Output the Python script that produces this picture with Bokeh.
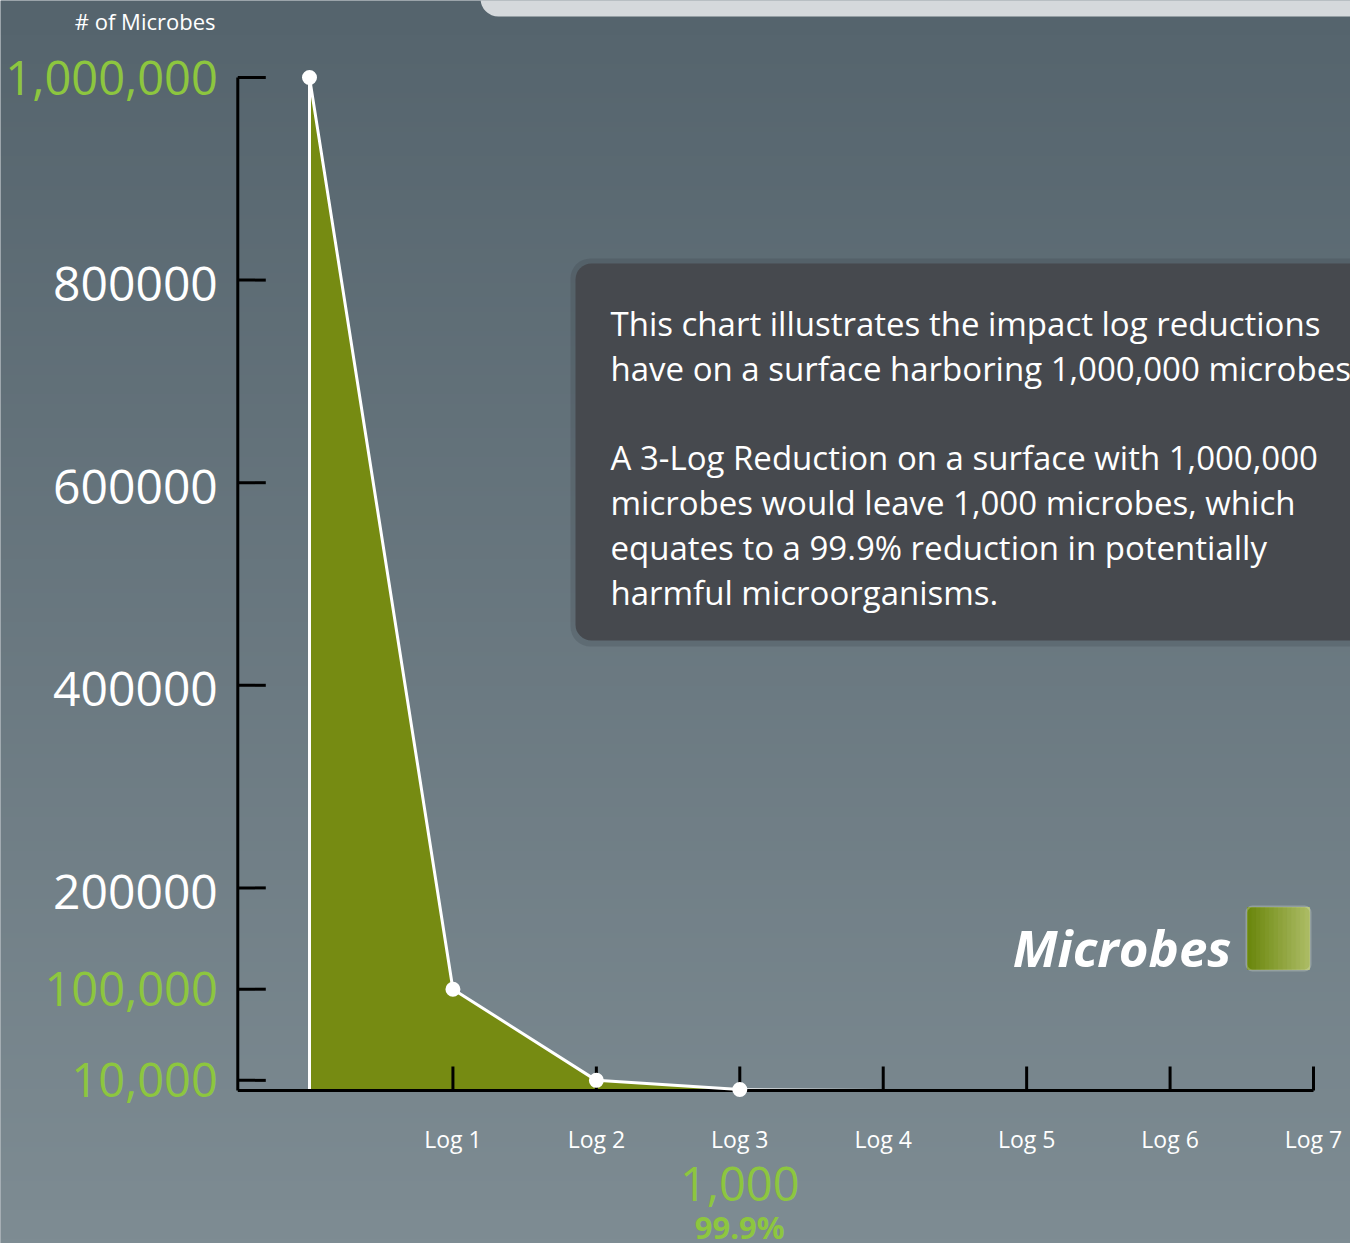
import numpy as np
from bokeh.plotting import figure
from bokeh.models import Range1d, BoxAnnotation
from bokeh.core.properties import value
from bokeh.embed import file_html
from bokeh.resources import INLINE

# ---------------- data ----------------
steps = [0, 1, 2, 3]
microbes = [1000000, 100000, 10000, 1000]
trail_steps = [3, 4]
trail_microbes = [1000, 100]
x_tick_steps = [1, 2, 3, 4, 5, 6, 7]
x_tick_labels = ["Log 1", "Log 2", "Log 3", "Log 4", "Log 5", "Log 6", "Log 7"]
y_ticks_plain = [200000, 400000, 600000, 800000]
y_labels_plain = ["200000", "400000", "600000", "800000"]
y_ticks_key = [10000, 100000, 1000000]
y_labels_key = ["10,000", "100,000", "1,000,000"]
highlight_step = 3
highlight_count = "1,000"
highlight_pct = "99.9%"
series_name = "Microbes"
y_title = "# of Microbes"
note_lines = [
    "This chart illustrates the impact log reductions",
    "have on a surface harboring 1,000,000 microbes.",
    "A 3-Log Reduction on a surface with 1,000,000",
    "microbes would leave 1,000 microbes, which",
    "equates to a 99.9% reduction in potentially",
    "harmful microorganisms.",
]

# ---------------- layout (pixels of the page) ----------------
W, H = 1350, 1243
PAD = 0
X0, DX = 309.0, 143.43     # page px of step 0, px per step
Y0, DY = 1090.0, 1013.0    # page px of 0 microbes, px per 1e6


def X(px):
    return (px - X0) / DX


def Y(py):
    return (Y0 - py) / DY * 1e6


xr = Range1d(X(PAD), X(PAD + W))
yr = Range1d(Y(PAD + H), Y(PAD))

p = figure(width=W, height=H, x_range=xr, y_range=yr,
           output_backend="svg", toolbar_location=None,
           x_axis_location=None, y_axis_location=None,
           min_border=0, min_border_left=0, min_border_right=0,
           min_border_top=0, min_border_bottom=0)
p.grid.visible = False
p.outline_line_color = None
p.background_fill_color = "#6a7981"
p.border_fill_color = "#6a7981"

# background gradient
rows = 256
img = np.empty((rows, 2), dtype=np.uint32)
view = img.view(dtype=np.uint8).reshape((rows, 2, 4))
bottom = np.array([126, 140, 147])
top = np.array([85, 100, 109])
for i in range(rows):
    t = i / (rows - 1)
    c = bottom * (1 - t) + top * t
    view[i, :, 0] = int(c[0])
    view[i, :, 1] = int(c[1])
    view[i, :, 2] = int(c[2])
    view[i, :, 3] = 255
bg = p.image_rgba(image=[img], x=xr.start, y=yr.start,
                  dw=xr.end - xr.start, dh=yr.end - yr.start)
bg.level = "image"

FONT = value("Open Sans")

# top light panel
p.add_layout(BoxAnnotation(left=X(480), right=X(1420), top=Y(-40), bottom=Y(16),
                           fill_color="#d5d9dc", fill_alpha=1, line_color=None,
                           border_radius=18, level="underlay"))

# note box with shadow
p.add_layout(BoxAnnotation(left=X(570), right=X(1420), top=Y(258), bottom=Y(646),
                           fill_color="#2f3438", fill_alpha=0.18, line_color=None,
                           border_radius=20, level="underlay"))
p.add_layout(BoxAnnotation(left=X(575), right=X(1420), top=Y(263), bottom=Y(640),
                           fill_color="#46494e", fill_alpha=1, line_color=None,
                           border_radius=16, level="underlay"))

note_y_px = [323, 368, 457, 502, 547, 592]
p.text(x=[X(610)] * len(note_lines), y=[Y(v) for v in note_y_px], text=note_lines,
       text_font=FONT, text_font_size="33px", text_color="#ffffff",
       text_align="left", text_baseline="middle")

# area + outline
axis_x = -0.5
p.varea(x=steps, y1=[0] * len(steps), y2=microbes, fill_color="#768b12", fill_alpha=1)
p.segment(x0=[steps[0]], y0=[0], x1=[steps[0]], y1=[microbes[0]],
          line_color="white", line_width=3)
p.line(x=trail_steps, y=trail_microbes, line_color="white", line_width=3, line_alpha=0.8)

# axes
tick_len_x = 28 / DX
tick_len_y = 24 / DY * 1e6
all_y_ticks = y_ticks_plain + y_ticks_key
p.segment(x0=[axis_x] * len(all_y_ticks), y0=all_y_ticks,
          x1=[axis_x + tick_len_x] * len(all_y_ticks), y1=all_y_ticks,
          line_color="black", line_width=3)
p.segment(x0=x_tick_steps, y0=[0] * len(x_tick_steps),
          x1=x_tick_steps, y1=[tick_len_y] * len(x_tick_steps),
          line_color="black", line_width=3)
p.segment(x0=[axis_x], y0=[0], x1=[axis_x], y1=[max(y_ticks_key)],
          line_color="black", line_width=3)
p.segment(x0=[axis_x], y0=[0], x1=[x_tick_steps[-1]], y1=[0],
          line_color="black", line_width=3)

p.line(x=steps, y=microbes, line_color="white", line_width=3)
p.scatter(x=steps, y=microbes, size=15, fill_color="white", line_color=None)

# y tick labels
p.text(x=[axis_x] * len(y_ticks_plain), y=y_ticks_plain, text=y_labels_plain,
       x_offset=-20, y_offset=4, text_font=FONT, text_font_size="48px",
       text_color="#ffffff", text_align="right", text_baseline="middle")
p.text(x=[axis_x] * len(y_ticks_key), y=y_ticks_key, text=y_labels_key,
       x_offset=-20, text_font=FONT, text_font_size="47px", text_color="#8dc63f",
       text_align="right", text_baseline="middle")
p.text(x=[X(215)], y=[Y(20)], text=[y_title], text_font=FONT,
       text_font_size="22px", text_color="#ffffff", text_align="right",
       text_baseline="middle")

# x tick labels
p.text(x=x_tick_steps, y=[Y(1138)] * len(x_tick_steps), text=x_tick_labels,
       text_font=FONT, text_font_size="23px", text_color="#ffffff",
       text_align="center", text_baseline="middle")
p.text(x=[highlight_step], y=[Y(1183)], text=[highlight_count], text_font=FONT,
       text_font_size="47px", text_color="#8dc63f", text_align="center",
       text_baseline="middle")
p.text(x=[highlight_step], y=[Y(1226)], text=[highlight_pct], text_font=FONT,
       text_font_size="31px", text_font_style="bold", text_color="#8dc63f",
       text_align="center", text_baseline="middle")

# legend
p.text(x=[X(1231)], y=[Y(946)], text=[series_name], text_font=FONT,
       text_font_size="51px", text_font_style="bold italic", text_color="#ffffff",
       text_align="right", text_baseline="middle")
n = 14
sw_l, sw_r, sw_t, sw_b = 1247, 1309, 907, 969
edges = np.linspace(sw_l, sw_r, n + 1)
c0 = np.array([108, 136, 14])
c1 = np.array([170, 186, 98])
cols = []
for i in range(n):
    t = i / (n - 1)
    c = (c0 * (1 - t) + c1 * t).astype(int)
    cols.append("#%02x%02x%02x" % tuple(c))
p.quad(left=[X(e) for e in edges[:-1]], right=[X(e) for e in edges[1:]],
       top=[Y(sw_t)] * n, bottom=[Y(sw_b)] * n, fill_color=cols, line_color=cols)
p.add_layout(BoxAnnotation(left=X(sw_l - 1), right=X(sw_r + 1), top=Y(sw_t - 1),
                           bottom=Y(sw_b + 1), fill_alpha=0, line_color="#dfe3d6",
                           line_width=2, border_radius=6))

open("out.html", "w").write(file_html(p, INLINE))
